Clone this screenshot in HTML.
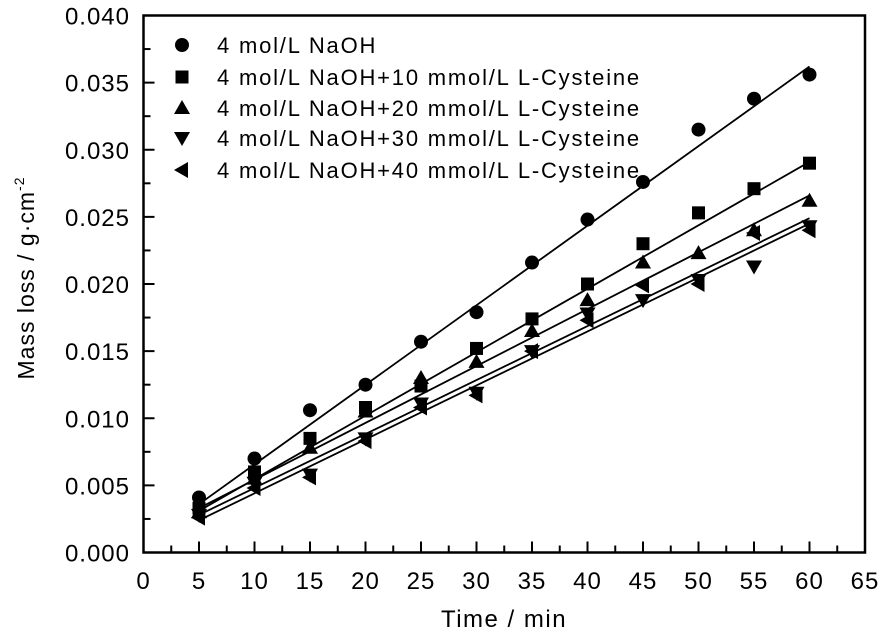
<!DOCTYPE html>
<html><head><meta charset="utf-8"><style>
body{margin:0;background:#fff;}
svg{display:block;font-family:"Liberation Sans",Arial,sans-serif;}
</style></head><body>
<svg id="s" width="886" height="633" viewBox="0 0 886 633" xmlns="http://www.w3.org/2000/svg">
<rect x="143.5" y="15.5" width="721.5" height="537" fill="none" stroke="#000" stroke-width="2.5"/>
<g id="g"></g>
<text x="504" y="627" font-size="24" letter-spacing="1.5" text-anchor="middle">Time / min</text>
<text transform="translate(34,278) rotate(-90)" font-size="23" letter-spacing="1" text-anchor="middle">Mass loss / g·cm<tspan dy="-10" font-size="14">-2</tspan></text>
</svg>
<script>
var g=document.getElementById('g'),h='';
function X(v){return 143.5+v*11.1;}
function Y(v){return 552.5-v*13425;}
for(var i=0;i<=26;i++){var v=i*2.5,x=X(v),L=i%2?7:11;h+='<line x1="'+x+'" y1="552.5" x2="'+x+'" y2="'+(552.5-L)+'" stroke="#000" stroke-width="2"/>';if(i%2==0)h+='<text x="'+x+'" y="589" font-size="24" letter-spacing="1" text-anchor="middle">'+v+'</text>';}
for(var i=0;i<=16;i++){var v=i*0.0025,y=Y(v),L=i%2?7:11;h+='<line x1="143.5" y1="'+y+'" x2="'+(143.5+L)+'" y2="'+y+'" stroke="#000" stroke-width="2"/>';if(i%2==0)h+='<text x="130" y="'+(y+9)+'" font-size="24" letter-spacing="1" text-anchor="end">'+v.toFixed(3)+'</text>';}
var S=[
[[.0041,.0070,.0106,.0125,.0157,.0179,.0216,.0248,.0276,.0315,.0338,.0356],.0036,.0362,'c'],
[[.0033,.0060,.0085,.0108,.0124,.0152,.0174,.0200,.0230,.0253,.0271,.0290],.0031,.0291,'s'],
[[.0030,.0055,.0078,.0105,.0130,.0142,.0165,.0188,.0216,.0223,.0240,.0262],.0033,.0266,'u'],
[[.0028,.0052,.0058,.0085,.0111,.0119,.0150,.0178,.0188,.0203,.0213,.0243],.0028,.0249,'d'],
[[.0026,.0048,.0056,.0083,.0108,.0117,.0150,.0173,.0199,.0200,.0238,.0240],.0024,.0245,'l']];
function M(t,x,y){
if(t=='c')return '<circle cx="'+x+'" cy="'+y+'" r="7"/>';
if(t=='s')return '<rect x="'+(x-6.5)+'" y="'+(y-6.5)+'" width="13" height="13"/>';
if(t=='u')return '<polygon points="'+x+','+(y-8)+' '+(x-8)+','+(y+6)+' '+(x+8)+','+(y+6)+'"/>';
if(t=='d')return '<polygon points="'+x+','+(y+8)+' '+(x-8)+','+(y-6)+' '+(x+8)+','+(y-6)+'"/>';
return '<polygon points="'+(x-8)+','+y+' '+(x+6)+','+(y-8)+' '+(x+6)+','+(y+8)+'"/>';}
var names=['4 mol/L NaOH','4 mol/L NaOH+10 mmol/L L-Cysteine','4 mol/L NaOH+20 mmol/L L-Cysteine','4 mol/L NaOH+30 mmol/L L-Cysteine','4 mol/L NaOH+40 mmol/L L-Cysteine'];
var ly=[45,77,108,138,170];
S.forEach(function(s,k){
h+='<line x1="'+X(5)+'" y1="'+Y(s[1])+'" x2="'+X(60)+'" y2="'+Y(s[2])+'" stroke="#000" stroke-width="1.8"/>';
s[0].forEach(function(v,j){h+=M(s[3],X(5+5*j),Y(v));});
h+=M(s[3],182,ly[k]);
h+='<text x="217" y="'+(ly[k]+8)+'" font-size="22" letter-spacing="1.8">'+names[k]+'</text>';
});
g.innerHTML=h;
</script>
</body></html>
